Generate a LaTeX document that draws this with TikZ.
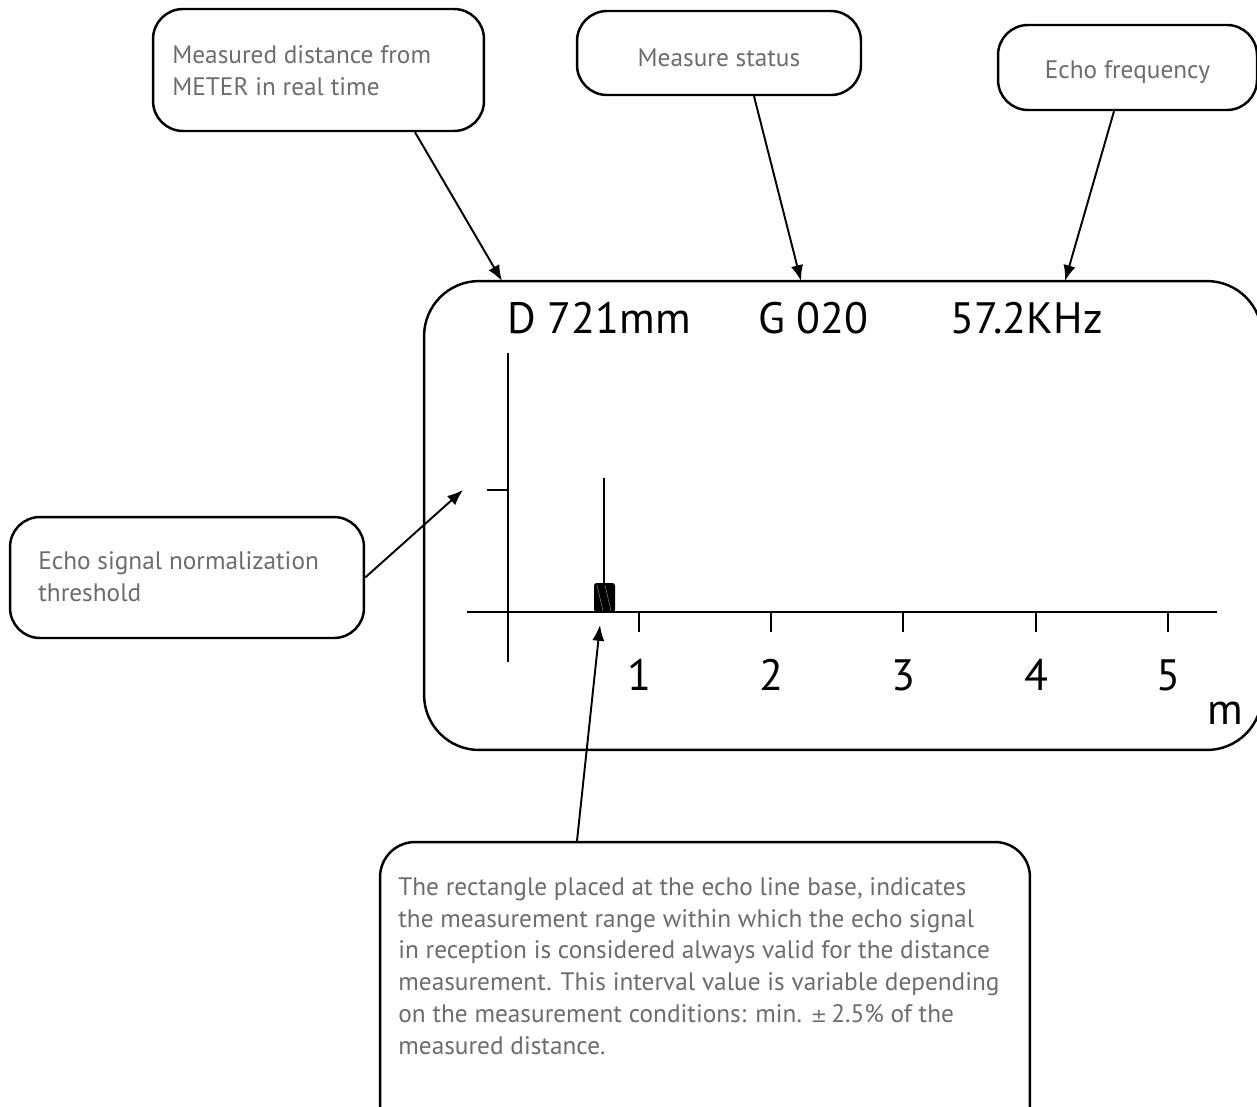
\documentclass[tikz,border=0pt]{standalone}
\usepackage{fontspec}
\setmainfont{PT Sans}
\usetikzlibrary{arrows.meta}
\definecolor{notegray}{RGB}{108,108,108}

\begin{document}
\begin{tikzpicture}[x=0.02cm, y=-0.02cm, >={Latex[length=9pt,width=7pt]},
    callout/.style={draw, line width=1.4pt, rounded corners=0.6cm, inner sep=0pt},
    note/.style={text=notegray, font=\fontsize{14.4pt}{18.1pt}\selectfont, align=left, inner sep=0pt},
    lcd/.style={font=\fontsize{25pt}{29pt}\selectfont, inner sep=0pt},
    axis/.style={line width=1pt},
    arr/.style={->, line width=1.1pt}]
  \path[use as bounding box, clip] (0,0) rectangle (1257,1106);

  % display frame
  \node[callout, rounded corners=1.1cm, minimum width=16.76cm, minimum height=9.38cm] (display) at (843,515.5) {};
  \node[lcd, anchor=base west] (dval) at (507,333) {D 721mm};
  \node[lcd, anchor=base west] (gval) at (758,333) {G 020};
  \node[lcd, anchor=base west] (fval) at (950,333) {57.2KHz};

  % callouts
  \node[callout, minimum width=6.62cm, minimum height=2.44cm] (distbox) at (318.5,70) {};
  \node[note, anchor=west] (disttxt) at (172,71) {Measured distance from\\METER in real time};
  \node[callout, note, text height=15pt, text depth=0pt, minimum width=5.68cm, minimum height=1.68cm] (statbox) at (719,53) {Measure status};
  \node[callout, note, text height=13pt, text depth=0pt, minimum width=5.18cm, minimum height=1.7cm] (freqbox) at (1127.5,67.5) {Echo frequency};
  \node[callout, minimum width=7.08cm, minimum height=2.42cm] (thrbox) at (187,577.5) {};
  \node[note, anchor=west] (thrtxt) at (38,577) {Echo signal normalization\\threshold};
  \node[callout, rounded corners=0.7cm, minimum width=13cm, minimum height=5.96cm] (rangebox) at (705,991) {};
  \node[note, anchor=north west] (rangetxt) at (398,877) {The rectangle placed at the echo line base, indicates\\
    the measurement range within which the echo signal\\
    in reception is considered always valid for the distance\\
    measurement. This interval value is variable depending\\
    on the measurement conditions: min. {\fontspec{DejaVu Sans}\fontsize{11pt}{18pt}\selectfont ±}\,2.5\% of the\\
    measured distance.};

  % axes
  \draw[axis] (508,353) -- (508,662);
  \draw[axis] (487,490) -- (508,490);
  \draw[axis] (467,612) -- (1217,612);
  \foreach \i/\x in {1/639,2/771,3/903,4/1036,5/1168}
    \draw[axis] (\x,612) -- (\x,632) node[lcd, anchor=base] at (\x,690) {\i};
  \node[lcd, anchor=base west] (unit) at (1207,724) {m};

  % echo line and range rectangle
  \draw[axis] (604,478) -- (604,612);
  \fill[rounded corners=1.5pt] (594,583) rectangle (615,612);
  \draw[gray, line width=0.3pt] (597,585) -- (603,611) (605,585) -- (611,611);

  % pointers
  \coordinate (dtip) at (502,281);
  \coordinate (gtip) at (801,281);
  \coordinate (ftip) at (1065,281);
  \coordinate (thrtip) at (463,490);
  \coordinate (rangetip) at (600,625);
  \draw[arr] (distbox.south) ++(96.5,0) -- (dtip);
  \draw[arr] (statbox.south) ++(35,0) -- (gtip);
  \draw[arr] (freqbox.south) ++(-13.5,0) -- (ftip);
  \draw[arr] (thrbox.east) -- (thrtip);
  \draw[arr] (rangebox.north) ++(-128,0) -- (rangetip);
\end{tikzpicture}
\end{document}
